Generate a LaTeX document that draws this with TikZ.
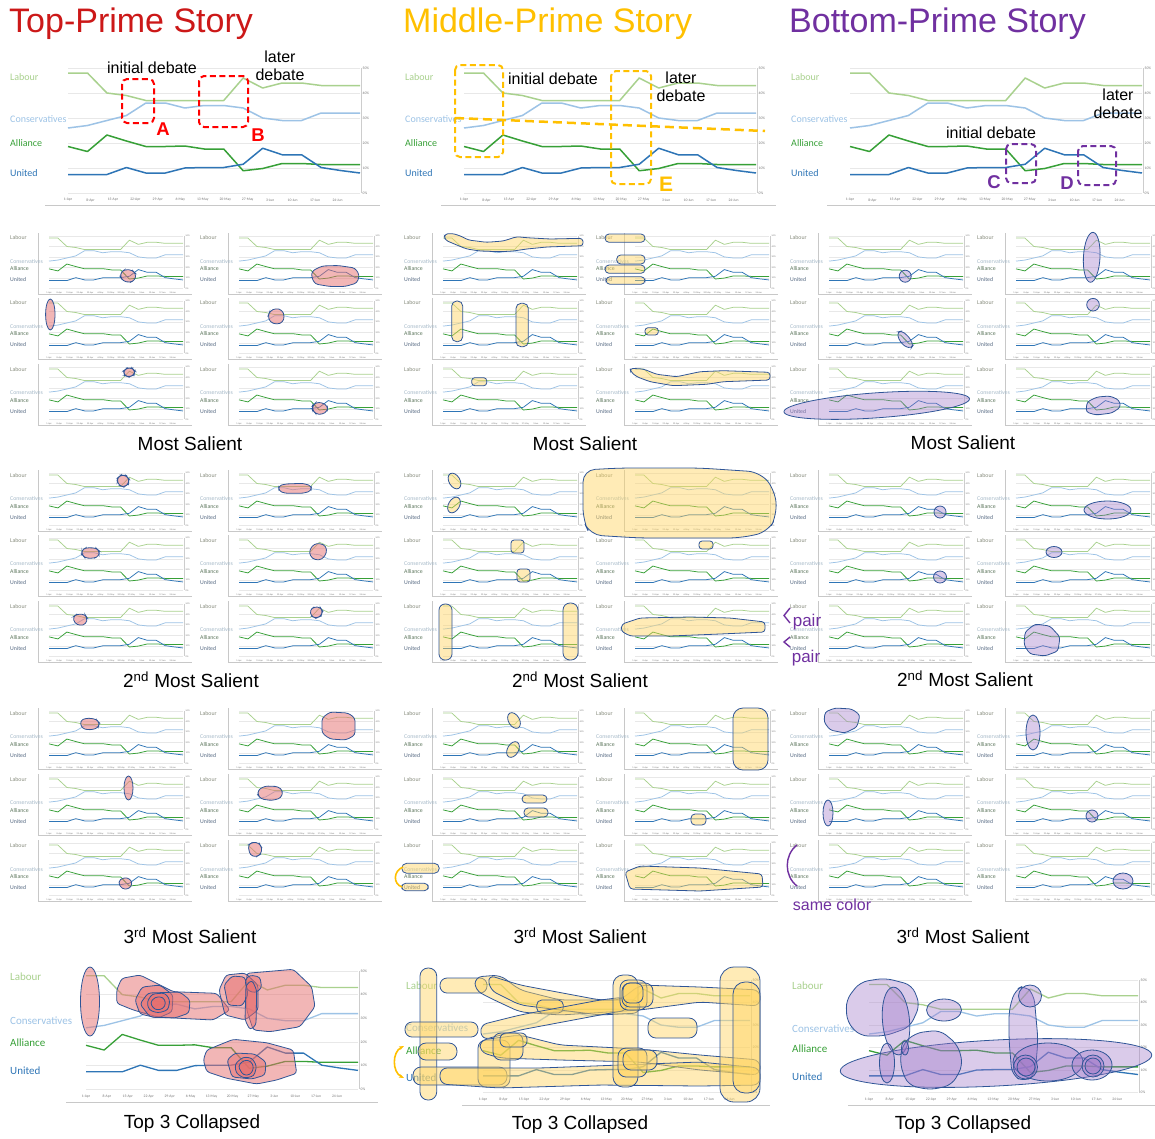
\documentclass[tikz,border=0pt]{standalone}
\usepackage{fontspec}
\setmainfont{Liberation Sans}
\newfontfamily\calib{Carlito}
\usetikzlibrary{arrows.meta}

\definecolor{labc}{RGB}{169,209,142}
\definecolor{conc}{RGB}{157,195,230}
\definecolor{allc}{RGB}{55,160,55}
\definecolor{unic}{RGB}{46,117,182}
\definecolor{labtb}{RGB}{169,209,142}
\definecolor{contb}{RGB}{157,195,230}
\definecolor{alltb}{RGB}{55,160,55}
\definecolor{unitb}{RGB}{46,117,182}
\definecolor{labts}{RGB}{135,140,125}
\definecolor{conts}{RGB}{165,185,200}
\definecolor{allts}{RGB}{95,120,95}
\definecolor{units}{RGB}{85,105,130}
\definecolor{topred}{RGB}{204,24,24}
\definecolor{midgold}{RGB}{255,192,0}
\definecolor{botpurple}{RGB}{112,48,160}
\definecolor{blobedge}{RGB}{47,85,151}
\definecolor{redfill}{RGB}{230,110,110}
\definecolor{goldfill}{RGB}{255,212,95}
\definecolor{purpfill}{RGB}{160,120,200}
\definecolor{gridc}{RGB}{232,232,232}
\definecolor{axisc}{RGB}{205,205,205}
\definecolor{framec}{RGB}{200,200,200}
\definecolor{tickc}{RGB}{120,120,120}

\tikzset{
  gridln/.style={draw=gridc, line width=0.4pt},
  axisln/.style={draw=axisc, line width=0.4pt},
  frameln/.style={draw=framec, line width=0.8pt},
  labln/.style={draw=labc, line join=round},
  conln/.style={draw=conc, line join=round},
  allln/.style={draw=allc, line join=round},
  uniln/.style={draw=unic, line join=round},
  chartlab/.style={anchor=west, inner sep=0pt},
  ticklab/.style={inner sep=0pt, text=tickc},
  redblob/.style={draw=blobedge, line width=0.8pt, fill=redfill, fill opacity=0.5, rounded corners=3pt},
  goldblob/.style={draw=blobedge, line width=0.8pt, fill=goldfill, fill opacity=0.45, rounded corners=3pt},
  purpblob/.style={draw=blobedge, line width=0.8pt, fill=purpfill, fill opacity=0.38, rounded corners=3pt},
  story/.style={anchor=west, inner sep=0pt, font=\fontsize{34}{36}\selectfont},
  seclab/.style={inner sep=0pt, font=\fontsize{19}{22}\selectfont},
  debatenote/.style={inner sep=0pt, font=\fontsize{16}{18}\selectfont},
  lettertag/.style={inner sep=0pt, font=\bfseries\fontsize{18.5}{20}\selectfont},
  debatebox/.style={line width=2pt, rounded corners=5pt, dash pattern=on 6pt off 3.5pt},
  purpln/.style={draw=botpurple, line width=1.4pt},
  goldarc/.style={draw=midgold, line width=1.6pt},
}

\newcounter{chartno}
\def\dLab{0/48,1/48,2/40,3/39,4/37,5/37,6/37,7/37,8/37,9/46,10/42,11/44,12/44,13/43,14/43,15/43}
\def\dCon{0/26,1/27,2/29,3/31,4/36,5/36,6/34,7/35,8/35,9/34,10/30,11/29,12/29,13/32,14/32,15/32}
\def\dAll{0/18.6,1/16.6,2/23.2,3/20.8,4/18.6,5/18.6,6/18.8,7/17.6,8/17.6,9/8.9,10/9.8,11/11.8,12/11.8,13/11.4,14/11.4,15/11.4}
\def\dUni{0/7.4,1/7.4,2/7.4,3/10.2,4/8,5/8,6/10,7/10.2,8/10.2,9/11.5,10/17.9,11/15.3,12/15.3,13/10.2,14/9,15/8}
\def\datelist{1-Apr,8-Apr,15-Apr,22-Apr,29-Apr,6-May,13-May,20-May,27-May,3-Jun,10-Jun,17-Jun,24-Jun}

% plot area: #1 left x, #2 y of 50%, #3 width, #4 px per percent, #5 line width, #6 tick font size
\newcommand{\chartlines}[6]{%
  \foreach \g in {0,10,...,50}{
    \draw[gridln] (#1,{#2+(50-\g)*#4}) -- ({#1+#3},{#2+(50-\g)*#4});
    \node[ticklab, anchor=west, font=\calib\fontsize{#6}{#6}\selectfont] (pct\thechartno-\g) at ({#1+#3+2.5},{#2+(50-\g)*#4}) {\g\%};
  }
  \draw[axisln] ({#1+#3+1.2},#2) -- ({#1+#3+1.2},{#2+50*#4});
  \foreach \d [count=\k from 0] in \datelist
    \node[ticklab, font=\calib\fontsize{#6}{#6}\selectfont] (date\thechartno-\k) at ({#1+\k*#3/13},{#2+50*#4+1.9*#6}) {\d};
  \draw[labln, line width=#5] (#1,{#2+2*#4}) foreach \i/\v in \dLab {-- ({#1+\i*#3/15},{#2+(50-\v)*#4})};
  \draw[conln, line width=#5] (#1,{#2+24*#4}) foreach \i/\v in \dCon {-- ({#1+\i*#3/15},{#2+(50-\v)*#4})};
  \draw[allln, line width=#5] (#1,{#2+31.4*#4}) foreach \i/\v in \dAll {-- ({#1+\i*#3/15},{#2+(50-\v)*#4})};
  \draw[uniln, line width=#5] (#1,{#2+42.6*#4}) foreach \i/\v in \dUni {-- ({#1+\i*#3/15},{#2+(50-\v)*#4})};
}

% series names: #1 x, #2-#5 y, #6 font size, #7 b/s colour set
\newcommand{\chartlabels}[7]{%
  \node[chartlab, font=\calib\fontsize{#6}{#6}\selectfont, text=labt#7] (labour\thechartno) at ({#1},{#2}) {Labour};
  \node[chartlab, font=\calib\fontsize{#6}{#6}\selectfont, text=cont#7] (cons\thechartno) at ({#1},{#3}) {Conservatives};
  \node[chartlab, font=\calib\fontsize{#6}{#6}\selectfont, text=allt#7] (alli\thechartno) at ({#1},{#4}) {Alliance};
  \node[chartlab, font=\calib\fontsize{#6}{#6}\selectfont, text=unit#7] (unit\thechartno) at ({#1},{#5}) {United};
}

\newcommand{\smallchart}[2]{%
  \stepcounter{chartno}%
  \draw[frameln] ({#1-11},{#2-3}) -- ({#1-11},{#2+58}) -- ({#1+143},{#2+58});
  \chartlines{#1}{#2}{134}{1.046}{0.75pt}{2.3}
  \chartlabels{#1-39}{#2+2}{#2+26}{#2+33}{#2+44}{5.8}{s}
}

\newcommand{\headchart}[2]{%
  \stepcounter{chartno}%
  \chartlines{#1}{68}{292}{2.5}{1.5pt}{3.7}
  \chartlabels{#2}{77}{119}{143}{173}{10}{b}
  \draw[frameln] ({#1-23},205) -- ({#1+312},205);
}

\newcommand{\ellblob}[6]{\draw[#1, shift={(#2,#3)}, rotate=#6] (0,0) ellipse [x radius=#4pt, y radius=#5pt];}

\begin{document}
\begin{tikzpicture}[x=1pt, y=-1pt]
\useasboundingbox (0,0) rectangle (1155,1138);
\fill[white] (0,0) rectangle (1155,1138);

% story titles
\node[story, text=topred] (ttop) at (9,24) {Top-Prime Story};
\node[story, text=midgold] (tmid) at (403,24) {Middle-Prime Story};
\node[story, text=botpurple] (tbot) at (789,24) {Bottom-Prime Story};

% header charts
\headchart{68}{10}
\headchart{464}{405}
\headchart{850}{791}

% top-prime annotations
\draw[debatebox, draw=red] (122,79) rectangle (154,123);
\draw[debatebox, draw=red] (199,76) rectangle (248,127);
\node[debatenote] (ini1) at (152,68) {initial debate};
\node[debatenote, align=center] (lat1) at (280,66) {later\\debate};
\node[lettertag, text=red] (tagA) at (163,129) {A};
\node[lettertag, text=red] (tagB) at (258,135) {B};

% middle-prime annotations
\draw[debatebox, draw=midgold] (455,65) rectangle (503,157);
\draw[debatebox, draw=midgold] (611,71) rectangle (651,184);
\draw[midgold, line width=2.5pt, dash pattern=on 9pt off 5pt] (455,118) -- (765,131);
\node[debatenote] (ini2) at (553,79) {initial debate};
\node[debatenote, align=center] (lat2) at (681,87) {later\\debate};
\node[lettertag, text=midgold, font=\bfseries\fontsize{21}{22}\selectfont] (tagE) at (666,184) {E};

% bottom-prime annotations
\draw[debatebox, draw=botpurple] (1006,144) rectangle (1036,183);
\draw[debatebox, draw=botpurple] (1078,146) rectangle (1116,185);
\node[debatenote] (ini3) at (991,133) {initial debate};
\node[debatenote, align=center] (lat3) at (1118,104) {later\\debate};
\node[lettertag, text=botpurple] (tagC) at (994,182) {C};
\node[lettertag, text=botpurple] (tagD) at (1067,183) {D};

% grids of small charts
\foreach \py in {236,301,367,473,538,604,711,777,843}
  \foreach \px in {49,239,443,635,829,1016}
    {\smallchart{\px}{\py}}

% section captions
\node[seclab] (ms1) at (190,444) {Most Salient};
\node[seclab] (ms2) at (585,444) {Most Salient};
\node[seclab] (ms3) at (963,443) {Most Salient};
\node[seclab] (nd1) at (191,680) {2\textsuperscript{nd} Most Salient};
\node[seclab] (nd2) at (580,680) {2\textsuperscript{nd} Most Salient};
\node[seclab] (nd3) at (965,679) {2\textsuperscript{nd} Most Salient};
\node[seclab] (rd1) at (190,936) {3\textsuperscript{rd} Most Salient};
\node[seclab] (rd2) at (580,936) {3\textsuperscript{rd} Most Salient};
\node[seclab] (rd3) at (963,936) {3\textsuperscript{rd} Most Salient};
\node[seclab] (tc1) at (192,1124) {Top 3 Collapsed};
\node[seclab] (tc2) at (580,1125) {Top 3 Collapsed};
\node[seclab] (tc3) at (963,1125) {Top 3 Collapsed};

% collapsed charts
\stepcounter{chartno}
\chartlines{86}{971}{272}{2.366}{1.3pt}{3.7}
\chartlabels{10}{977}{1021}{1043}{1071}{11}{b}
\draw[frameln] (66,1102) -- (378,1102);
\stepcounter{chartno}
\chartlines{483}{980}{267}{2.25}{1.3pt}{3.7}
\chartlabels{406}{986}{1028}{1051}{1078}{11}{b}
\draw[frameln] (462,1105) -- (770,1105);
\stepcounter{chartno}
\chartlines{869}{980}{269}{2.25}{1.3pt}{3.7}
\chartlabels{792}{986}{1029}{1049}{1077}{11}{b}
\draw[frameln] (848,1105) -- (1155,1105);

% ---- top-prime blobs ----
\draw[redblob] (121,272) -- (125,269.5) -- (132,270) -- (136,274) -- (135,280) -- (130,282.5) -- (123,281) -- (120.5,277) -- cycle;
\draw[redblob] (312,271) -- (322,266) -- (338,265.5) -- (355,268) -- (359.5,275) -- (357,283) -- (345,286.5) -- (330,286.5) -- (315,284) -- (311.5,277) -- cycle;
\ellblob{redblob}{50.3}{314.5}{4.7}{15.5}{0}
\draw[redblob] (270,311) -- (276,308.3) -- (282,310) -- (284.5,316) -- (283,322) -- (277,324.5) -- (270,322) -- (268,316) -- cycle;
\draw[redblob] (123.5,371) -- (127,368) -- (132,368) -- (135,371) -- (134,375) -- (129,377) -- (124.5,375.5) -- cycle;
\draw[redblob] (312.5,406) -- (316,402.5) -- (322,402.5) -- (327.5,406) -- (327.5,411) -- (322,414.5) -- (316,414) -- (312.5,410) -- cycle;
\draw[redblob] (117.5,478) -- (121,475) -- (126,475.5) -- (129,479) -- (128.5,484) -- (124,487) -- (119,485.5) -- (117.3,481) -- cycle;
\draw[redblob] (278.5,486) -- (285,484) -- (303,483.3) -- (311.5,486) -- (311,491) -- (303,493.3) -- (285,493.3) -- (279,491) -- cycle;
\draw[redblob] (82,550) -- (86,547.7) -- (96,548) -- (99.3,551) -- (99,556) -- (94,558.3) -- (85,558) -- (81.7,554) -- cycle;
\draw[redblob] (309.5,550) -- (314,544) -- (320,543.3) -- (326,546) -- (326.7,553) -- (322,559.5) -- (315,560) -- (310,556) -- cycle;
\draw[redblob] (73,617) -- (77,614) -- (85,614.5) -- (87.3,618) -- (86,624) -- (80,625.7) -- (74.5,623) -- cycle;
\draw[redblob] (310,610) -- (314,607) -- (320,607) -- (322.7,611) -- (321,616) -- (316,618.3) -- (311,616) -- cycle;
\draw[redblob] (80,721) -- (86,718) -- (96,719) -- (99.5,723) -- (98,728) -- (90,730) -- (82,728.5) -- cycle;
\draw[redblob] (322,718) -- (330,712) -- (348,713) -- (355,718) -- (355,735) -- (346,740) -- (330,739) -- (322,733) -- cycle;
\ellblob{redblob}{128.5}{788}{4.5}{12}{0}
\draw[redblob] (258,790) -- (265,786) -- (278,786.5) -- (283,791) -- (281,798) -- (272,800.5) -- (261,799) -- (258,795) -- cycle;
\draw[redblob] (118,882) -- (123,877.5) -- (130,878.5) -- (132.5,884) -- (129,889) -- (122,889) -- cycle;
\draw[redblob] (248,845) -- (253,842) -- (259,843) -- (262,848) -- (261,854) -- (256,857) -- (250,855) -- cycle;
% collapsed
\ellblob{redblob}{90}{1001.5}{9.5}{34.5}{0}
\draw[redblob] (116.7,990) -- (121.7,978.3) -- (140,975) -- (173.3,991.7) -- (216.7,993.3) -- (230,1010) -- (213.3,1020) -- (180,1018.3) -- (156.7,1016.7) -- (133.3,1010) -- (116.7,1003.3) -- cycle;
\draw[redblob] (135,1000) -- (142,987) -- (160,985) -- (173,995) -- (172,1012) -- (158,1018) -- (140,1014) -- cycle;
\draw[redblob] (140,1004) -- (148,993) -- (180,992) -- (190,1000) -- (189,1013) -- (175,1018) -- (150,1017) -- cycle;
\draw[redblob] (147,1002) -- (152,994) -- (165,993) -- (170,1000) -- (168,1010) -- (158,1013) -- (149,1010) -- cycle;
\draw[redblob] (150,1003) -- (155,997) -- (163,997) -- (166,1003) -- (163,1009) -- (155,1010) -- cycle;
\draw[redblob] (246.7,973.3) -- (293.3,969.3) -- (311.7,986.7) -- (315,1006.7) -- (300,1026.7) -- (270,1031.7) -- (253.3,1030) -- (246.7,1010) -- cycle;
\draw[redblob] (219,990) -- (226,975) -- (245,973) -- (258,985) -- (258,1010) -- (245,1020) -- (225,1015) -- cycle;
\draw[redblob] (224,985) -- (232,976) -- (245,977) -- (248,995) -- (242,1006) -- (228,1005) -- cycle;
\draw[redblob] (245,980) -- (250,975) -- (260,977) -- (261.7,988) -- (255,993) -- (247,990) -- cycle;
\draw[redblob] (246,985) -- (252,980) -- (256.7,990) -- (256,1025) -- (250,1030) -- (245,1020) -- cycle;
\draw[redblob] (206.7,1050) -- (233.3,1039.3) -- (266.7,1042.7) -- (293.3,1050) -- (296.7,1073.3) -- (276.7,1080) -- (256.7,1084) -- (226.7,1078.3) -- (206.7,1071.7) -- (203.3,1060) -- cycle;
\draw[redblob] (227,1060) -- (235,1053) -- (255,1054) -- (266,1062) -- (265,1075) -- (252,1079) -- (232,1077) -- cycle;
\draw[redblob] (235,1064) -- (243,1057) -- (252,1058) -- (256.7,1066) -- (254,1076) -- (244,1078.3) -- (236,1073) -- cycle;
\draw[redblob] (238,1066) -- (244,1060) -- (251,1061) -- (254,1068) -- (250,1075) -- (243,1075) -- cycle;

% ---- middle-prime blobs ----
\draw[goldblob] (444.3,234.3) -- (451.7,233.3) -- (460,235.7) -- (468.3,240) -- (486.7,242.3) -- (503.3,241) -- (516.7,236.7) -- (526.7,237.7) -- (550,239) -- (582.7,238.3) -- (583.3,245.7) -- (546.7,247) -- (526.7,249) -- (513.3,251) -- (500,251.7) -- (480,251) -- (466.7,249) -- (456.7,245) -- (445,240) -- cycle;
\draw[goldblob, rounded corners=4pt] (605,234) rectangle (645,242.3);
\draw[goldblob, rounded corners=4pt] (616.7,255) rectangle (645,264);
\draw[goldblob, rounded corners=4pt] (605,265) rectangle (645,273.3);
\draw[goldblob, rounded corners=4pt] (606,276.7) rectangle (645,284.3);
\draw[goldblob, rounded corners=5pt] (451.7,301) rectangle (462.7,341.7);
\draw[goldblob, rounded corners=5pt] (516,303.3) rectangle (528.3,346.7);
\draw[goldblob, rounded corners=3pt] (645,327.7) rectangle (658.3,335);
\draw[goldblob, rounded corners=3pt] (471.7,377.7) rectangle (486.7,385.7);
\draw[goldblob] (630,368.3) -- (643.3,369) -- (656.7,374.3) -- (676.7,376.7) -- (700,371.7) -- (723.3,370.7) -- (770,372.3) -- (770,380) -- (723.3,381.7) -- (706.7,384.3) -- (673.3,385.7) -- (650,381.7) -- (636.7,376.7) -- (630.7,371.7) -- cycle;
\ellblob{goldblob}{454.5}{481}{5.5}{8.5}{30}
\ellblob{goldblob}{454}{505}{5.5}{8.5}{-30}
\draw[goldblob, rounded corners=12pt] (583,470) -- (620,468) -- (700,468) -- (760,472) -- (775,490) -- (777,515) -- (768,532) -- (740,538) -- (640,538) -- (590,535) -- (583,520) -- cycle;
\draw[goldblob, rounded corners=3pt] (511,540) rectangle (524,553);
\draw[goldblob, rounded corners=3pt] (517,569) rectangle (530,582);
\draw[goldblob, rounded corners=3pt] (699,541) rectangle (713,549);
\draw[goldblob, rounded corners=6pt] (439,604) rectangle (452,660);
\draw[goldblob, rounded corners=7pt] (563,603) rectangle (578,660);
\draw[goldblob] (622,624) -- (640,618) -- (690,617) -- (730,618) -- (765,622) -- (765,632) -- (720,634) -- (670,636) -- (630,636) -- (621,631) -- cycle;
\ellblob{goldblob}{514}{720.5}{5.5}{8.5}{30}
\ellblob{goldblob}{513}{749.5}{5.5}{8.5}{-30}
\draw[goldblob, rounded corners=10pt] (733,708) rectangle (768,770);
\draw[goldblob, rounded corners=4pt] (522,795) rectangle (547,803);
\draw[goldblob, rounded corners=4pt] (524,808) rectangle (548,817);
\draw[goldblob, rounded corners=4pt] (691,814) rectangle (706,825);
\draw[goldblob, rounded corners=5pt] (401.7,863.3) rectangle (439.3,873.3);
\draw[goldblob, rounded corners=4pt] (401.7,883.3) rectangle (428.3,890.7);
\draw[goldarc] (403,867) .. controls (393,871) and (393,884) .. (402,887);
\draw[goldblob] (625,872) -- (640,866) -- (700,868) -- (762,874) -- (763,887) -- (700,891) -- (630,889) -- cycle;
% collapsed
\draw[goldblob, rounded corners=8pt] (420,968) rectangle (436.7,1100);
\draw[goldblob, rounded corners=7pt] (440,978) rectangle (487,993);
\draw[goldblob, rounded corners=7pt] (475,977) -- (500,975) -- (520,990) -- (560,1000) -- (620,1000) -- (640,985) -- (700,987) -- (760,990) -- (760,1006) -- (700,1002) -- (640,1010) -- (560,1015) -- (520,1012) -- (490,998) -- (475,990) -- cycle;
\draw[goldblob, rounded corners=7pt] (488,975) -- (520,985) -- (600,1000) -- (640,1000) -- (640,1013) -- (600,1015) -- (520,1005) -- (490,990) -- cycle;
\draw[goldblob, rounded corners=5pt] (536.7,1000) rectangle (563.3,1013);
\draw[goldblob, rounded corners=7pt] (405,1022) rectangle (478,1037);
\draw[goldblob, rounded corners=7pt] (480,1025) -- (520,1015) -- (600,1000) -- (625,997) -- (628,1010) -- (600,1015) -- (520,1030) -- (482,1040) -- cycle;
\draw[goldblob, rounded corners=8pt] (648,1018) rectangle (697,1038);
\draw[goldblob, rounded corners=8pt] (418,1043) rectangle (457,1060);
\draw[goldblob, rounded corners=8pt] (413,1067) rectangle (507,1085);
\draw[goldblob, rounded corners=8pt] (478,1040) rectangle (510,1087);
\draw[goldblob, rounded corners=7pt] (480,1040) -- (520,1035) -- (560,1045) -- (620,1048) -- (650,1050) -- (700,1055) -- (760,1060) -- (760,1075) -- (700,1070) -- (640,1062) -- (560,1060) -- (500,1058) -- (480,1052) -- cycle;
\draw[goldblob, rounded corners=7pt] (440,1068) -- (540,1068) -- (620,1065) -- (700,1062) -- (760,1068) -- (760,1085) -- (700,1086) -- (600,1085) -- (500,1088) -- (440,1084) -- cycle;
\draw[goldblob, rounded corners=10pt] (613,975) rectangle (638,1087);
\draw[goldblob, rounded corners=8pt] (620,980) rectangle (647,1010);
\draw[goldblob, rounded corners=8pt] (622,983) rectangle (653,1007);
\draw[goldblob, rounded corners=7pt] (623,983) rectangle (643,1003);
\draw[goldblob, rounded corners=8pt] (618,1048) rectangle (647,1077);
\draw[goldblob, rounded corners=8pt] (623,1050) rectangle (657,1070);
\draw[goldblob, rounded corners=8pt] (493,1033) rectangle (523,1060);
\draw[goldblob, rounded corners=6pt] (500,1033) rectangle (527,1047);
\draw[goldblob, rounded corners=14pt] (720,967) rectangle (760,1102);
\draw[goldblob, rounded corners=12pt] (733,982) rectangle (760,1093);
\draw[goldarc, {Stealth[length=5pt]}-{Stealth[length=5pt]}] (404,1046) .. controls (392,1052) and (392,1072) .. (404,1078);

% ---- bottom-prime blobs ----
\ellblob{purpblob}{905.2}{276.2}{6}{6}{0}
\ellblob{purpblob}{1091.7}{257.3}{8.3}{25}{-3}
\draw[purpblob] (897.5,332) -- (902,331) -- (909,337) -- (913.3,345) -- (911,348.3) -- (904,346) -- (898.5,339) -- cycle;
\ellblob{purpblob}{1093}{304.7}{6.3}{6.3}{0}
\ellblob{purpblob}{876.7}{405.3}{93}{12.5}{4}
\draw[purpblob] (1087,402) -- (1097,397) -- (1110,396) -- (1119,400) -- (1120.7,407) -- (1112,413) -- (1096,415) -- (1086,412) -- cycle;
\ellblob{purpblob}{940}{512}{6}{6}{0}
\ellblob{purpblob}{1107.5}{510}{23.5}{9}{0}
\ellblob{purpblob}{1054}{552}{8}{5.5}{0}
\ellblob{purpblob}{940}{577}{6.5}{6}{0}
\draw[purpblob] (1025,632) -- (1035,624) -- (1050,626) -- (1060,637) -- (1058,651) -- (1045,656) -- (1030,654) -- (1024,645) -- cycle;
\draw[purpln] (790,608) -- (784,615.5) -- (790,623);
\draw[purpln] (790,637) -- (784,642) -- (790,647);
\node[debatenote, text=botpurple, font=\fontsize{17}{18}\selectfont] (pair1) at (807,622) {pair};
\node[debatenote, text=botpurple, font=\fontsize{17}{18}\selectfont] (pair2) at (806,658) {pair};
\draw[purpblob] (825,712) -- (835,708) -- (852,709) -- (860,715) -- (857,727) -- (845,733) -- (830,730) -- (824,722) -- cycle;
\ellblob{purpblob}{1033}{732.5}{7}{17.5}{0}
\ellblob{purpblob}{828}{813}{5}{13}{0}
\ellblob{purpblob}{1092}{816}{6}{6}{0}
\ellblob{purpblob}{1123}{881}{10}{8}{0}
\draw[purpln] (797,845) .. controls (784,855) and (784,876) .. (797,886);
\node[debatenote, text=botpurple] (samec) at (832,905) {same color};
% collapsed
\ellblob{purpblob}{996}{1063}{156}{23}{3}
\draw[purpblob, rounded corners=8pt] (846,1000) -- (860,982) -- (885,978) -- (912,985) -- (920,1005) -- (910,1027) -- (885,1036) -- (860,1036) -- (847,1022) -- cycle;
\ellblob{purpblob}{896}{1021}{13.5}{34}{5}
\ellblob{purpblob}{944}{1010}{17.5}{11}{0}
\draw[purpblob, rounded corners=8pt] (902,1045) -- (915,1033) -- (940,1030) -- (958,1045) -- (963,1065) -- (952,1085) -- (930,1090) -- (908,1085) -- (900,1065) -- cycle;
\ellblob{purpblob}{887}{1063}{7.5}{20}{0}
\ellblob{purpblob}{905}{1048}{3.5}{7}{0}
\draw[purpblob, rounded corners=8pt] (1009,1010) -- (1015,990) -- (1025,985) -- (1034,995) -- (1038,1040) -- (1035,1075) -- (1024,1082) -- (1012,1075) -- (1009,1040) -- cycle;
\ellblob{purpblob}{1030}{996}{11.5}{11}{0}
\ellblob{purpblob}{1048}{1062}{35}{19}{0}
\ellblob{purpblob}{1025.5}{1067}{12}{12}{0}
\ellblob{purpblob}{1026}{1067}{9}{9}{0}
\ellblob{purpblob}{1092}{1065}{20}{15}{0}
\ellblob{purpblob}{1093}{1066}{11}{11}{0}
\ellblob{purpblob}{1093}{1066}{8}{8}{0}
\end{tikzpicture}
\end{document}
